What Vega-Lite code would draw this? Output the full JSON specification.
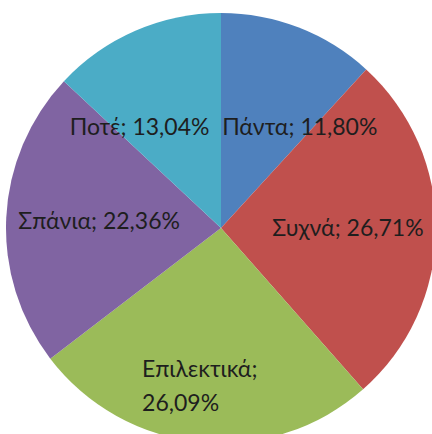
{
  "$schema": "https://vega.github.io/schema/vega-lite/v6.json",
  "width": 422,
  "height": 412,
  "autosize": {"type": "none"},
  "padding": {"left": 10, "top": 22, "right": 0, "bottom": 0},
  "background": "white",
  "data": {
    "values": [
      {"category": "Πάντα", "ord": 1, "value": 11.80, "label": "Πάντα; 11,80%"},
      {"category": "Συχνά", "ord": 2, "value": 26.71, "label": "Συχνά; 26,71%"},
      {"category": "Επιλεκτικά", "ord": 3, "value": 26.09, "label": "Επιλεκτικά;\n26,09%"},
      {"category": "Σπάνια", "ord": 4, "value": 22.36, "label": "Σπάνια; 22,36%"},
      {"category": "Ποτέ", "ord": 5, "value": 13.04, "label": "Ποτέ; 13,04%"}
    ]
  },
  "encoding": {
    "theta": {"field": "value", "type": "quantitative", "stack": true},
    "order": {"field": "ord", "type": "quantitative"}
  },
  "layer": [
    {
      "mark": {"type": "arc", "radius": 215},
      "encoding": {
        "color": {
          "field": "category",
          "type": "nominal",
          "scale": {
            "domain": ["Πάντα", "Συχνά", "Επιλεκτικά", "Σπάνια", "Ποτέ"],
            "range": ["#4F81BD", "#C0504D", "#9BBB59", "#8064A2", "#4BACC6"]
          },
          "legend": null
        }
      }
    },
    {
      "mark": {
        "type": "text",
        "font": "Lato",
        "fontSize": 23,
        "fill": "#1E1E1E",
        "lineBreak": "\n",
        "lineHeight": 34,
        "baseline": "middle",
        "radius": {"expr": "datum.category === 'Πάντα' ? 107 : datum.category === 'Ποτέ' ? 109 : datum.category === 'Συχνά' ? 127 : datum.category === 'Σπάνια' ? 122 : 143"},
        "dx": {"expr": "datum.category === 'Πάντα' ? 40 : datum.category === 'Ποτέ' ? -38 : datum.category === 'Επιλεκτικά' ? -65 : 0"},
        "align": {"expr": "datum.category === 'Επιλεκτικά' ? 'left' : 'center'"}
      },
      "encoding": {
        "text": {"field": "label", "type": "nominal"}
      }
    }
  ]
}
